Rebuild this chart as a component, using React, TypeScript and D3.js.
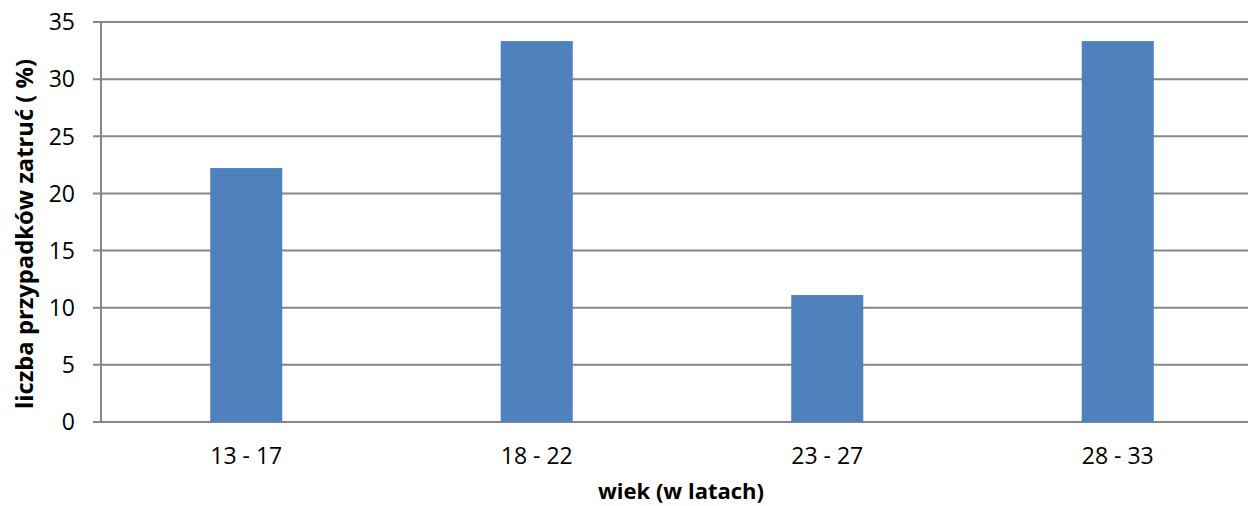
import React from "react";
import * as d3 from "d3";

const categories = ["13 - 17", "18 - 22", "23 - 27", "28 - 33"];
const values = [22.22, 33.33, 11.11, 33.33];
const yTicks = [0, 5, 10, 15, 20, 25, 30, 35];
const xTitle = "wiek (w latach)";
const yTitle = "liczba przypadków zatruć ( %)";

const W = 1248;
const H = 506;
const left = 101;
const right = 1263;
const top = 22;
const bottom = 422;

export default function App() {
  const x = d3.scaleBand<string>().domain(categories).range([left, right]).paddingInner(0.752).paddingOuter(0.376);
  const y = d3.scaleLinear().domain([0, 35]).range([bottom, top]);
  const font = "'Open Sans', sans-serif";
  return (
    <svg width={W} height={H} style={{ position: "absolute", left: 0, top: 0, background: "#fff" }}>
      {yTicks.map((t) => (
        <g key={t}>
          <line x1={93} x2={W} y1={y(t)} y2={y(t)} stroke="#878787" strokeWidth={2} />
          <text x={75} y={y(t)} dy="0.36em" textAnchor="end" fontFamily={font} fontSize={23} fill="#000">
            {t}
          </text>
        </g>
      ))}
      <line x1={left} x2={left} y1={top} y2={bottom} stroke="#878787" strokeWidth={2} />
      {categories.map((c, i) => (
        <rect
          key={c}
          x={x(c)!}
          y={y(values[i])}
          width={x.bandwidth()}
          height={bottom - y(values[i])}
          fill="#4F81BD"
        />
      ))}
      {categories.map((c) => (
        <text key={c} x={x(c)! + x.bandwidth() / 2} y={464} textAnchor="middle" fontFamily={font} fontSize={23} fill="#000">
          {c}
        </text>
      ))}
      <text x={681} y={499} textAnchor="middle" fontFamily={font} fontSize={22} fontWeight="bold" fill="#000">
        {xTitle}
      </text>
      <text
        transform={`translate(33, 234) rotate(-90)`}
        textAnchor="middle"
        fontFamily={font}
        fontSize={23.5}
        fontWeight="bold"
        fill="#000"
        textLength={350}
        lengthAdjust="spacingAndGlyphs"
      >
        {yTitle}
      </text>
    </svg>
  );
}
